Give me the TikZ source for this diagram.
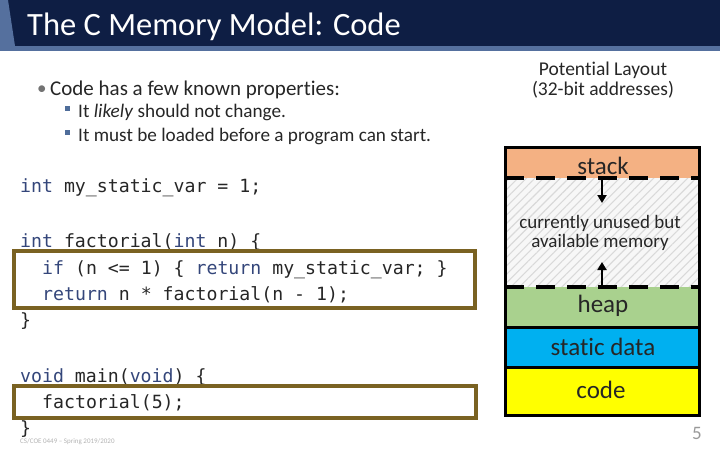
\documentclass[tikz,border=0pt]{standalone}
\usepackage{fontspec}
\setmainfont{Carlito}[Ligatures=NoCommon]
\newfontfamily\codefont{DejaVu Sans Mono}
\usepackage{xcolor}
\usetikzlibrary{arrows.meta,positioning,patterns.meta}
\definecolor{titlenavy}{HTML}{0E1E44}
\definecolor{titlestripe}{HTML}{55709E}
\definecolor{boxbrown}{HTML}{7A6222}
\definecolor{kwblue}{HTML}{34467A}
\definecolor{stackorange}{HTML}{F4B183}
\definecolor{heapgreen}{HTML}{A9D18E}
\definecolor{staticblue}{HTML}{00B0F0}
\definecolor{codeyellow}{HTML}{FFFF00}
\definecolor{bulletblue}{HTML}{4F6D9A}
\newcommand{\kw}[1]{\textcolor{kwblue}{#1}}
\newcommand{\fsz}[1]{\fontsize{#1}{#1}\selectfont}

\begin{document}
\begin{tikzpicture}[x=1pt, y=-1pt, >={Triangle[length=8pt,width=9pt]},
  codeline/.style={anchor=base west, inner sep=0pt, text=black!85, font=\codefont\fsz{18.2}},
  segtext/.style={inner sep=0pt, font=\fsz{25}, text=black!85},
  bodytext/.style={anchor=base west, inner sep=0pt, text=black!85},
  callbox/.style={draw=boxbrown, line width=3.5pt},
  memline/.style={line width=3pt},
  gapline/.style={line width=4pt, dash pattern=on 19pt off 12pt}]
\useasboundingbox (0,0) rectangle (720,450);
% title bar
\fill[titlenavy] (0,0) rectangle (720,46);
\fill[titlestripe] (0,46) rectangle (720,51);
\fill[titlestripe] (0,0) -- (8,0) -- (15,46) -- (0,46) -- cycle;
\node[anchor=base west, inner sep=0pt, text=white, font=\fsz{32.5}] (title) at (27,35) {The C Memory Model: Code};

% bullets
\node[bodytext, font=\fsz{21}] (bul) at (50,95) {Code has a few known properties:};
\node[bodytext, font=\fsz{19}, text=black!55] (dot) at (37,94) {\textbullet};
\node[bodytext, font=\fsz{19.2}] (subone) at (78,117) {It \textit{likely} should not change.};
\node[bodytext, font=\fsz{19.2}] (subtwo) at (78,141) {It must be loaded before a program can start.};
\fill[bulletblue] (65,106) rectangle ++(5,5);
\fill[bulletblue] (65,130) rectangle ++(5,5);

% code
\node[codeline] (cvar) at (20,192) {\kw{int} my\_static\_var = 1;};
\node[codeline] (cfact) at (20,247) {\kw{int} factorial(\kw{int} n) \{};
\node[codeline] (cif) at (42,274) {\kw{if} (n <= 1) \{ \kw{return} my\_static\_var; \}};
\node[codeline] (cret) at (42,300) {\kw{return} n * factorial(n - 1);};
\node[codeline] (cend) at (20,326) {\}};
\node[codeline] (cmain) at (20,382) {\kw{void} main(\kw{void}) \{};
\node[codeline] (ccall) at (42,408) {factorial(5);};
\node[codeline] (cmend) at (20,434) {\}};
\draw[callbox] (14,251) rectangle (475,308);
\draw[callbox] (14,386) rectangle (476,418);

% memory layout
\node[align=center, inner sep=0pt, font=\fsz{19.5}, text=black!85] (layout) at (603,80) {Potential Layout\\(32-bit addresses)};
\fill[stackorange] (505,147) rectangle (699,178);
\fill[gray!6] (505,178) rectangle (699,287);
\fill[pattern={Lines[angle=45,distance=6pt,line width=1.1pt]}, pattern color=gray!30] (505,178) rectangle (699,287);
\fill[heapgreen] (505,287) rectangle (699,327);
\fill[staticblue] (505,327) rectangle (699,367);
\fill[codeyellow] (505,367) rectangle (699,415);
\draw[memline] (505,327) -- (699,327);
\draw[memline] (505,367) -- (699,367);
\draw[gapline] (505,178) -- (699,178);
\draw[gapline] (505,287) -- (699,287);
\draw[memline] (505,147) rectangle (699,415);
\node[segtext] (stack) at (603,166) {stack};
\node[segtext, align=center, font=\fsz{19}] (unused) at (600,233) {currently unused but\\available memory};
\node[segtext] (heap) at (603,306) {heap};
\node[segtext] (static) at (603,347) {static data};
\node[segtext] (code) at (601,390) {code};
\coordinate (stackedge) at (602,178);
\coordinate (stackgrow) at (602,203);
\coordinate (heapedge) at (602,287);
\coordinate (heapgrow) at (602,262);
\draw[->, line width=2.5pt] (stackedge) -- (stackgrow);
\draw[->, line width=2.5pt] (heapedge) -- (heapgrow);

% footer
\node[anchor=base west, inner sep=0pt, font=\fsz{7}, text=gray!60] (footer) at (20,443) {CS/COE 0449 -- Spring 2019/2020};
\node[anchor=base east, inner sep=0pt, font=\fsz{19}, text=gray!80] (pagenum) at (702,439) {5};
\end{tikzpicture}
\end{document}
